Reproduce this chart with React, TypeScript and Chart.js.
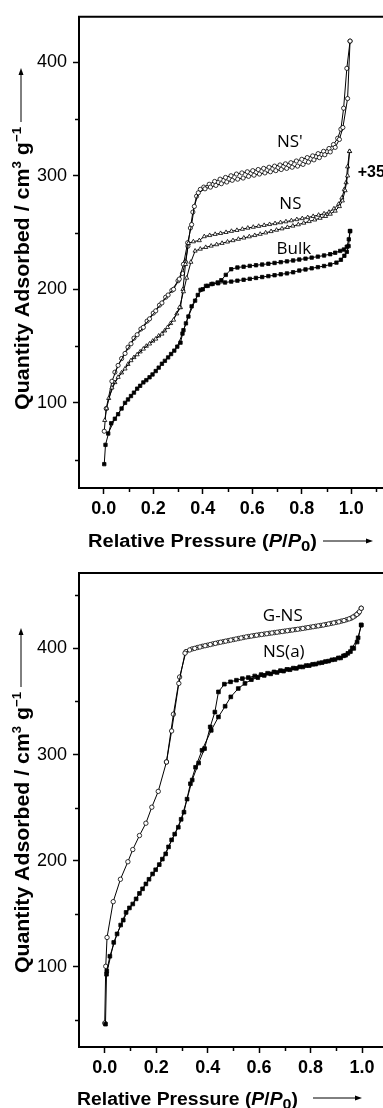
import React, { useEffect, useRef } from "react";
import { Chart, registerables } from "chart.js";
Chart.register(...registerables);

// ---------------- TOP PANEL DATA ----------------
const nsPrimeAdsP = [0.002, 0.01, 0.033, 0.058, 0.086, 0.11, 0.135, 0.16, 0.185, 0.21, 0.235, 0.26, 0.282, 0.305, 0.322, 0.339, 0.355, 0.366, 0.382, 0.409, 0.431, 0.453, 0.475, 0.497, 0.519, 0.541, 0.563, 0.585, 0.607, 0.629, 0.651, 0.673, 0.695, 0.717, 0.739, 0.761, 0.783, 0.805, 0.827, 0.849, 0.871, 0.893, 0.915, 0.935, 0.952, 0.966, 0.985, 0.995];
const nsPrimeAdsV = [75, 95, 119, 133, 143.5, 152, 160, 166.5, 174, 181, 188, 195, 200, 209, 222, 241, 257, 273, 285, 288.5, 290, 291.5, 293, 294.5, 296, 297, 298, 299.5, 300.5, 301.5, 302.5, 303.5, 304.5, 305.5, 306.5, 307.5, 308.5, 310, 312, 314, 316, 318.5, 321, 325, 332, 342.5, 368, 418.6];
const nsPrimeDesP = [0.995, 0.982, 0.969, 0.958, 0.945, 0.928, 0.91, 0.888, 0.866, 0.844, 0.822, 0.8, 0.778, 0.756, 0.734, 0.712, 0.69, 0.668, 0.646, 0.624, 0.602, 0.58, 0.558, 0.536, 0.514, 0.492, 0.47, 0.448, 0.426, 0.404, 0.39, 0.375, 0.36, 0.35, 0.34, 0.33, 0.318, 0.3, 0.275, 0.25, 0.225, 0.2, 0.175, 0.15, 0.122, 0.098, 0.072, 0.045];
const nsPrimeDesV = [418.6, 394.6, 359.5, 341, 333, 327.5, 324, 321.5, 319.5, 317.5, 316, 314.5, 313, 311.5, 310.5, 309.5, 308.5, 307.5, 306.5, 305.5, 304.5, 303.5, 302.5, 301.5, 300, 298.5, 297, 295, 292.5, 290, 288, 282, 268, 254, 238, 224, 214, 207.5, 199, 193, 186, 179, 172, 165, 157, 149, 139, 127];

const nsAdsP = [0.004, 0.011, 0.033, 0.058, 0.086, 0.11, 0.135, 0.16, 0.185, 0.21, 0.235, 0.258, 0.282, 0.306, 0.322, 0.335, 0.352, 0.369, 0.39, 0.412, 0.434, 0.456, 0.478, 0.5, 0.522, 0.544, 0.566, 0.588, 0.61, 0.632, 0.654, 0.676, 0.698, 0.72, 0.742, 0.764, 0.786, 0.808, 0.83, 0.852, 0.874, 0.896, 0.915, 0.935, 0.952, 0.964, 0.975, 0.985, 0.993];
const nsAdsV = [84.6, 95, 113.3, 122.6, 130, 137.3, 142.5, 147.5, 152, 156.3, 160.7, 166.5, 173, 184, 198, 210, 224, 233.8, 235.5, 237, 238.2, 239.4, 240.6, 241.8, 243, 244.2, 245.3, 246.4, 247.5, 248.6, 249.8, 251, 252.2, 253.4, 254.6, 255.8, 257, 258.4, 259.8, 261.2, 262.7, 264.3, 266.3, 269, 273, 278, 287, 300, 321.5];
const nsDesP = [0.993, 0.985, 0.979, 0.972, 0.962, 0.949, 0.93, 0.91, 0.89, 0.868, 0.846, 0.824, 0.802, 0.78, 0.758, 0.736, 0.714, 0.692, 0.67, 0.648, 0.626, 0.604, 0.582, 0.56, 0.538, 0.516, 0.494, 0.472, 0.45, 0.428, 0.406, 0.386, 0.362, 0.342, 0.33, 0.32, 0.31, 0.295, 0.27, 0.246, 0.222, 0.198, 0.172, 0.147, 0.122, 0.098, 0.072, 0.045, 0.02];
const nsDesV = [321.5, 308, 294, 288, 280.5, 275, 271, 268, 266.6, 265.4, 264.3, 263.3, 262.4, 261.5, 260.5, 259.6, 258.8, 258, 257.2, 256.4, 255.6, 254.8, 254, 253, 252, 251.2, 250.2, 249.3, 248.5, 247.5, 246.5, 243, 242, 240.5, 222, 200, 184, 178.5, 170, 163.5, 159, 154.5, 150, 145, 140, 134, 126.5, 118, 104];

const bulkAdsP = [0.002, 0.007, 0.03, 0.058, 0.086, 0.11, 0.135, 0.16, 0.185, 0.21, 0.235, 0.26, 0.285, 0.31, 0.322, 0.342, 0.369, 0.391, 0.413, 0.435, 0.462, 0.49, 0.515, 0.54, 0.565, 0.59, 0.615, 0.64, 0.665, 0.69, 0.715, 0.74, 0.765, 0.79, 0.815, 0.84, 0.865, 0.89, 0.915, 0.94, 0.958, 0.972, 0.982, 0.989, 0.995];
const bulkAdsV = [46, 63, 82, 90, 100, 106, 112.5, 118, 122.5, 128, 134.4, 140, 146, 153, 164, 176, 190, 199.5, 203, 204.6, 205.3, 206, 206.8, 207.6, 208.4, 209.2, 210, 210.8, 211.6, 212.4, 213.2, 214, 215, 216.5, 217.5, 218.5, 219.5, 220.5, 221.8, 223.5, 226, 229.5, 233, 238, 251.3];
const bulkDesP = [0.995, 0.99, 0.982, 0.97, 0.955, 0.935, 0.915, 0.89, 0.865, 0.84, 0.815, 0.79, 0.765, 0.74, 0.715, 0.69, 0.665, 0.64, 0.615, 0.59, 0.565, 0.54, 0.515, 0.493, 0.475, 0.46, 0.44, 0.42, 0.4, 0.38, 0.355, 0.332, 0.318, 0.297, 0.272, 0.247, 0.222, 0.197, 0.172, 0.147, 0.122, 0.098, 0.072, 0.045, 0.018];
const bulkDesV = [251.3, 244, 237.5, 235, 233.8, 232.2, 230.9, 229.8, 228.8, 227.9, 227, 226.2, 225.4, 224.6, 223.9, 223.2, 222.5, 221.8, 221.2, 220.6, 219.9, 219.2, 217.7, 212.7, 208, 206, 204.8, 203, 200, 195, 185, 170, 161, 149.5, 143, 137, 131, 125, 120, 115, 109, 103, 95, 86, 73];

// ---------------- BOTTOM PANEL DATA ----------------
const gnsAdsP = [0.0, 0.004, 0.009, 0.033, 0.061, 0.09, 0.109, 0.135, 0.16, 0.183, 0.208, 0.24, 0.26, 0.288, 0.312, 0.33, 0.35, 0.37, 0.39, 0.41, 0.43, 0.45, 0.47, 0.49, 0.51, 0.53, 0.55, 0.57, 0.59, 0.61, 0.63, 0.65, 0.67, 0.69, 0.71, 0.73, 0.75, 0.77, 0.79, 0.81, 0.83, 0.85, 0.87, 0.89, 0.91, 0.93, 0.95, 0.965, 0.98, 0.99, 0.997];
const gnsAdsV = [47, 100.5, 127.7, 161.4, 182.5, 199, 210.5, 223.7, 235.3, 250.4, 265.3, 293, 322.2, 367, 395.5, 398.5, 400, 401.3, 402.5, 403.6, 404.7, 405.8, 406.8, 407.8, 408.8, 409.8, 410.8, 411.6, 412.4, 413.1, 413.8, 414.5, 415.2, 415.9, 416.6, 417.3, 418, 418.8, 419.6, 420.4, 421.2, 422, 423, 424, 425, 426.2, 427.8, 429.5, 432, 434.5, 437.8];
const gnsDesP = [0.997, 0.985, 0.972, 0.958, 0.94, 0.92, 0.9, 0.88, 0.86, 0.84, 0.82, 0.8, 0.78, 0.76, 0.74, 0.72, 0.7, 0.68, 0.66, 0.64, 0.62, 0.6, 0.58, 0.56, 0.54, 0.52, 0.5, 0.48, 0.46, 0.44, 0.42, 0.4, 0.38, 0.36, 0.34, 0.316, 0.291, 0.267, 0.24];
const gnsDesV = [437.8, 433, 430.5, 428.5, 427, 425.7, 424.5, 423.5, 422.5, 421.6, 420.8, 420, 419.2, 418.4, 417.7, 417, 416.3, 415.6, 414.9, 414.2, 413.5, 412.8, 412, 411.2, 410.3, 409.3, 408.3, 407.3, 406.3, 405.3, 404.2, 403, 402, 400.8, 399.5, 397, 373, 338, 293];

const nsaAdsP = [0.003, 0.007, 0.035, 0.062, 0.083, 0.109, 0.135, 0.16, 0.186, 0.212, 0.237, 0.26, 0.286, 0.308, 0.333, 0.353, 0.378, 0.414, 0.442, 0.468, 0.49, 0.519, 0.545, 0.57, 0.595, 0.62, 0.645, 0.67, 0.695, 0.72, 0.745, 0.77, 0.795, 0.82, 0.845, 0.87, 0.895, 0.917, 0.936, 0.955, 0.968, 0.981, 0.997];
const nsaAdsV = [46, 93, 123, 139.4, 151.3, 159.2, 169.2, 178.1, 187.5, 196.3, 206.4, 219.6, 231.5, 245.7, 272.5, 288, 304, 322.8, 335.4, 345.5, 354.3, 362.2, 367, 370.5, 372.5, 374.5, 376, 377.3, 378.6, 379.9, 381.2, 382.5, 383.8, 385.2, 386.6, 388, 389.5, 391, 393.5, 397, 400, 406, 422];
const nsaDesP = [0.997, 0.985, 0.962, 0.945, 0.928, 0.908, 0.883, 0.858, 0.833, 0.808, 0.783, 0.758, 0.733, 0.708, 0.683, 0.658, 0.633, 0.608, 0.583, 0.558, 0.535, 0.512, 0.489, 0.465, 0.442, 0.428, 0.41, 0.388, 0.365, 0.34, 0.32, 0.297, 0.272, 0.248, 0.224, 0.198, 0.172, 0.147, 0.122, 0.096, 0.072, 0.048, 0.02, 0.008];
const nsaDesV = [422, 410, 400.5, 395.3, 393, 391, 389.2, 387.6, 386.2, 385, 383.8, 382.6, 381.4, 380.2, 379, 377.8, 376.6, 375.3, 374, 372.5, 371.5, 370, 368.5, 366.3, 359, 340, 326, 305.6, 292, 276, 258, 239, 225, 213, 201.5, 191.5, 182.5, 173.5, 164, 155.5, 144, 131, 110, 96];

// ---------------- AXES / TICKS ----------------
const xMajorTicks = [0, 0.2, 0.4, 0.6, 0.8, 1.0];
const xMinorTicks = [0.1, 0.3, 0.5, 0.7, 0.9, 1.1];
const topYMajorTicks = [100, 200, 300, 400];
const topYMinorTicks = [50, 150, 250, 350];
const botYMajorTicks = [100, 200, 300, 400];
const botYMinorTicks = [50, 150, 250, 350, 450];

const topLabels = [
  { text: "NS'", x: 0.752, y: 330, bold: false, align: "center" },
  { text: "NS", x: 0.754, y: 275, bold: false, align: "center" },
  { text: "Bulk", x: 0.768, y: 235, bold: false, align: "center" },
  { text: "+35", x: 1.026, y: 303, bold: true, align: "left" },
];
const botLabels = [
  { text: "G-NS", x: 0.692, y: 430.5, bold: false, align: "center" },
  { text: "NS(a)", x: 0.696, y: 396, bold: false, align: "center" },
];

const AX_FONT = '"Liberation Sans", Arial, sans-serif';
const LBL_FONT = '"Open Sans", "Noto Sans", sans-serif';

type Pt = { x: number; y: number };
const pts = (p: number[], v: number[]): Pt[] => p.map((x, i) => ({ x, y: v[i] }));

function series(p: number[], v: number[], style: string, r: number, fill: string) {
  return {
    data: pts(p, v),
    showLine: true,
    borderColor: "#000",
    borderWidth: 1,
    pointStyle: style,
    pointRadius: r,
    pointHoverRadius: r,
    pointBackgroundColor: fill,
    pointBorderColor: "#000",
    pointBorderWidth: 0.8,
  };
}

type Seg = { t: string; font: string; dy: number };
function drawSegs(ctx: CanvasRenderingContext2D, segs: Seg[], len: number) {
  let total = 0;
  const ws = segs.map((s) => {
    ctx.font = s.font;
    const w = ctx.measureText(s.t).width;
    total += w;
    return w;
  });
  ctx.scale(len / total, 1);
  let x = 0;
  segs.forEach((s, i) => {
    ctx.font = s.font;
    ctx.fillText(s.t, x, s.dy);
    x += ws[i];
  });
}

type Decor = {
  xMinor: number[];
  yMinor: number[];
  labels: { text: string; x: number; y: number; bold: boolean; align: string }[];
  yT: { baseX: number; start: number; end: number; arrowX: number; arrowFrom: number; arrowTip: number };
  xT: { x: number; base: number; width: number; arrowY: number; arrowFrom: number; arrowTo: number };
};

function makeDecor(d: Decor) {
  return {
    id: "decor",
    afterDraw(chart: any) {
      const { ctx, chartArea: a, scales } = chart;
      const xs = scales.x;
      const ys = scales.y;
      ctx.save();
      ctx.strokeStyle = "#000";
      ctx.fillStyle = "#000";
      // frame (top + right)
      ctx.lineWidth = 2;
      ctx.beginPath();
      ctx.moveTo(a.left - 1, a.top);
      ctx.lineTo(a.right, a.top);
      ctx.lineTo(a.right, a.bottom);
      ctx.stroke();
      // minor ticks
      ctx.lineWidth = 1.5;
      d.xMinor.forEach((v) => {
        const px = Math.round(xs.getPixelForValue(v)) + 0.5;
        ctx.beginPath();
        ctx.moveTo(px, a.bottom);
        ctx.lineTo(px, a.bottom + 4);
        ctx.stroke();
      });
      d.yMinor.forEach((v) => {
        const py = Math.round(ys.getPixelForValue(v)) + 0.5;
        ctx.beginPath();
        ctx.moveTo(a.left, py);
        ctx.lineTo(a.left - 4, py);
        ctx.stroke();
      });
      // in-plot labels
      ctx.textBaseline = "middle";
      d.labels.forEach((l) => {
        ctx.font = l.bold ? `bold 16px ${AX_FONT}` : `17px ${LBL_FONT}`;
        ctx.textAlign = l.align as CanvasTextAlign;
        ctx.fillText(l.text, xs.getPixelForValue(l.x), ys.getPixelForValue(l.y));
      });
      // y title
      const fs = 21;
      const bf = `bold ${fs}px ${AX_FONT}`;
      const sf = `bold ${Math.round(fs * 0.62)}px ${AX_FONT}`;
      ctx.textAlign = "left";
      ctx.textBaseline = "alphabetic";
      ctx.save();
      ctx.translate(d.yT.baseX, d.yT.start);
      ctx.rotate(-Math.PI / 2);
      drawSegs(
        ctx,
        [
          { t: "Quantity Adsorbed / cm", font: bf, dy: 0 },
          { t: "3", font: sf, dy: -fs * 0.4 },
          { t: " g", font: bf, dy: 0 },
          { t: "\u22121", font: sf, dy: -fs * 0.4 },
        ],
        d.yT.start - d.yT.end
      );
      ctx.restore();
      // y arrow
      ctx.lineWidth = 1;
      ctx.beginPath();
      ctx.moveTo(d.yT.arrowX, d.yT.arrowFrom);
      ctx.lineTo(d.yT.arrowX, d.yT.arrowTip + 5);
      ctx.stroke();
      ctx.beginPath();
      ctx.moveTo(d.yT.arrowX, d.yT.arrowTip);
      ctx.lineTo(d.yT.arrowX - 2.5, d.yT.arrowTip + 7);
      ctx.lineTo(d.yT.arrowX + 2.5, d.yT.arrowTip + 7);
      ctx.closePath();
      ctx.fill();
      // x title
      const xf = 18;
      const xb = `bold ${xf}px ${AX_FONT}`;
      const xi = `italic bold ${xf}px ${AX_FONT}`;
      const xsub = `bold ${Math.round(xf * 0.85)}px ${AX_FONT}`;
      ctx.save();
      ctx.translate(d.xT.x, d.xT.base);
      drawSegs(
        ctx,
        [
          { t: "Relative Pressure (", font: xb, dy: 0 },
          { t: "P", font: xi, dy: 0 },
          { t: "/", font: xb, dy: 0 },
          { t: "P", font: xi, dy: 0 },
          { t: "0", font: xsub, dy: 4 },
          { t: ")", font: xb, dy: 0 },
        ],
        d.xT.width
      );
      ctx.restore();
      // x arrow
      ctx.beginPath();
      ctx.moveTo(d.xT.arrowFrom, d.xT.arrowY);
      ctx.lineTo(d.xT.arrowTo - 5, d.xT.arrowY);
      ctx.stroke();
      ctx.beginPath();
      ctx.moveTo(d.xT.arrowTo, d.xT.arrowY);
      ctx.lineTo(d.xT.arrowTo - 7, d.xT.arrowY - 2.5);
      ctx.lineTo(d.xT.arrowTo - 7, d.xT.arrowY + 2.5);
      ctx.closePath();
      ctx.fill();
      ctx.restore();
    },
  };
}

function makeConfig(opts: {
  datasets: any[];
  xMax: number;
  yMin: number;
  yMax: number;
  yMajor: number[];
  padTop: number;
  xHeight: number;
  decor: Decor;
}) {
  return {
    type: "scatter" as const,
    data: { datasets: opts.datasets },
    options: {
      responsive: false,
      animation: false as const,
      devicePixelRatio: 1,
      layout: { padding: { top: opts.padTop, left: 0, right: 0, bottom: 0 } },
      plugins: { legend: { display: false }, tooltip: { enabled: false } },
      events: [],
      scales: {
        x: {
          type: "linear" as const,
          position: "bottom" as const,
          min: -0.1,
          max: opts.xMax,
          afterBuildTicks: (s: any) => {
            s.ticks = xMajorTicks.map((v) => ({ value: v }));
          },
          afterFit: (s: any) => {
            s.height = opts.xHeight;
          },
          ticks: {
            autoSkip: false,
            maxRotation: 0,
            minRotation: 0,
            padding: 4,
            color: "#000",
            font: { family: AX_FONT, size: 18, weight: "bold" as const },
            callback: (v: any) => Number(v).toFixed(1),
          },
          grid: {
            display: true,
            drawOnChartArea: false,
            drawTicks: true,
            tickLength: 6,
            tickWidth: 1.5,
            tickColor: "#000",
            color: "#000",
          },
          border: { display: true, color: "#000", width: 2 },
        },
        y: {
          type: "linear" as const,
          position: "left" as const,
          min: opts.yMin,
          max: opts.yMax,
          afterBuildTicks: (s: any) => {
            s.ticks = opts.yMajor.map((v) => ({ value: v }));
          },
          afterFit: (s: any) => {
            s.width = 79;
          },
          ticks: {
            autoSkip: false,
            padding: 6,
            color: "#000",
            font: { family: AX_FONT, size: 18 },
            callback: (v: any) => String(v),
          },
          grid: {
            display: true,
            drawOnChartArea: false,
            drawTicks: true,
            tickLength: 6,
            tickWidth: 1.5,
            tickColor: "#000",
            color: "#000",
          },
          border: { display: true, color: "#000", width: 2 },
        },
      },
    },
    plugins: [makeDecor(opts.decor)],
  };
}

export default function App() {
  const topRef = useRef<HTMLCanvasElement>(null);
  const botRef = useRef<HTMLCanvasElement>(null);

  useEffect(() => {
    const top = new Chart(
      topRef.current as HTMLCanvasElement,
      makeConfig({
        datasets: [
          series(bulkAdsP, bulkAdsV, "rect", 2.4, "#000"),
          series(bulkDesP, bulkDesV, "rect", 2.4, "#000"),
          series(nsAdsP, nsAdsV, "triangle", 2.4, "#fff"),
          series(nsDesP, nsDesV, "triangle", 2.4, "#fff"),
          series(nsPrimeAdsP, nsPrimeAdsV, "circle", 2.1, "#fff"),
          series(nsPrimeDesP, nsPrimeDesV, "circle", 2.1, "#fff"),
        ],
        xMax: 1.2,
        yMin: 25,
        yMax: 440,
        yMajor: topYMajorTicks,
        padTop: 15,
        xHeight: 66,
        decor: {
          xMinor: xMinorTicks,
          yMinor: topYMinorTicks,
          labels: topLabels,
          yT: { baseX: 29, start: 410, end: 127, arrowX: 21, arrowFrom: 122, arrowTip: 68 },
          xT: { x: 88, base: 547, width: 229, arrowY: 541, arrowFrom: 323, arrowTo: 373 },
        },
      }) as any
    );
    const bot = new Chart(
      botRef.current as HTMLCanvasElement,
      makeConfig({
        datasets: [
          series(nsaAdsP, nsaAdsV, "rect", 2.6, "#000"),
          series(nsaDesP, nsaDesV, "rect", 2.6, "#000"),
          series(gnsAdsP, gnsAdsV, "circle", 2.2, "#fff"),
          series(gnsDesP, gnsDesV, "circle", 2.2, "#fff"),
        ],
        xMax: 1.15,
        yMin: 24.5,
        yMax: 471,
        yMajor: botYMajorTicks,
        padTop: 19,
        xHeight: 61,
        decor: {
          xMinor: xMinorTicks,
          yMinor: botYMinorTicks,
          labels: botLabels,
          yT: { baseX: 29, start: 419, end: 138, arrowX: 21, arrowFrom: 133, arrowTip: 74 },
          xT: { x: 77, base: 551, width: 221, arrowY: 544, arrowFrom: 313, arrowTo: 362 },
        },
      }) as any
    );
    return () => {
      top.destroy();
      bot.destroy();
    };
  }, []);

  return (
    <div
      style={{
        position: "absolute",
        left: 0,
        top: 0,
        width: 383,
        height: 1108,
        overflow: "hidden",
        background: "#fff",
      }}
    >
      <canvas
        ref={topRef}
        width={404}
        height={554}
        style={{ position: "absolute", left: 0, top: 0, width: 404, height: 554 }}
      />
      <canvas
        ref={botRef}
        width={404}
        height={554}
        style={{ position: "absolute", left: 0, top: 554, width: 404, height: 554 }}
      />
    </div>
  );
}
